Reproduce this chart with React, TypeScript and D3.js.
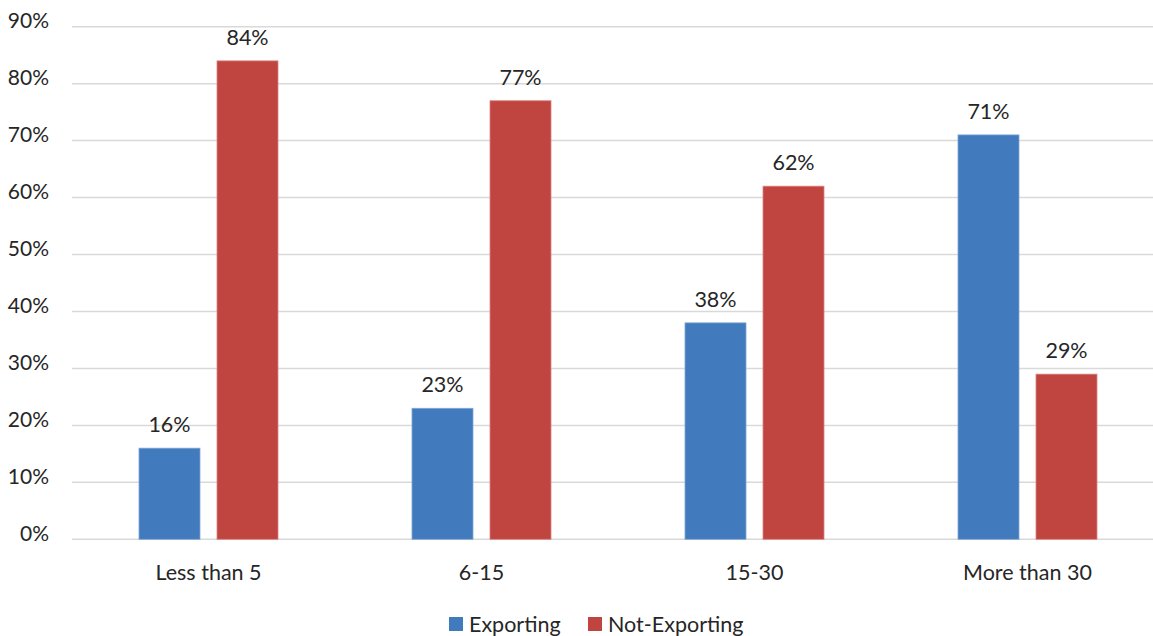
import React from "react";
import * as d3 from "d3";

// Share of firms exporting vs not exporting, by firm size (employees)
const categories = ["Less than 5", "6-15", "15-30", "More than 30"];
const seriesNames = ["Exporting", "Not-Exporting"];
const exporting = [16, 23, 38, 71];
const notExporting = [84, 77, 62, 29];
const yTicks = [0, 10, 20, 30, 40, 50, 60, 70, 80, 90];

const colors = ["#417BBD", "#C0443F"];
const strokes = ["#7FA6D6", "#D98683"];

const W = 1153;
const H = 636;
const FONT = "Lato, 'Open Sans', sans-serif";
const TEXT = "#262626";
const FS = 21.5;

export default function App() {
  const x = d3.scaleBand<string>().domain(categories).range([72, 1164]).padding(0);
  const xs = d3
    .scaleBand<string>()
    .domain(seriesNames)
    .range([0, 139])
    .paddingInner(0.218)
    .paddingOuter(0);
  const y = d3.scaleLinear().domain([0, 90]).range([539.3, 26.7]);

  const series = [exporting, notExporting];

  return (
    <svg
      width={W}
      height={H}
      style={{ position: "absolute", left: 0, top: 0, background: "#fff" }}
      fontFamily={FONT}
    >
      {/* gridlines and y tick labels */}
      {yTicks.map((t) => (
        <g key={t}>
          <line x1={72} x2={W} y1={y(t)} y2={y(t)} stroke="#D9D9D9" strokeWidth={1.5} />
          <text
            x={49}
            y={y(t) - 7}
            textAnchor="end"
            dominantBaseline="central"
            fontSize={21}
            fill={TEXT}
          >
            {t}%
          </text>
        </g>
      ))}

      {/* bars with value labels */}
      {categories.map((c, ci) => {
        const gx = (x(c) ?? 0) + x.bandwidth() / 2 - 69.5;
        return (
          <g key={c}>
            {seriesNames.map((s, si) => {
              const v = series[si][ci];
              const bx = gx + (xs(s) ?? 0);
              return (
                <g key={s}>
                  <rect
                    x={bx}
                    y={y(v)}
                    width={xs.bandwidth()}
                    height={y(0) - y(v)}
                    fill={colors[si]}
                    stroke={strokes[si]}
                    strokeWidth={0.8}
                  />
                  <text
                    x={bx + xs.bandwidth() / 2}
                    y={y(v) - 24}
                    textAnchor="middle"
                    dominantBaseline="central"
                    fontSize={FS}
                    fill={TEXT}
                  >
                    {v}%
                  </text>
                </g>
              );
            })}
            <text
              x={(x(c) ?? 0) + x.bandwidth() / 2}
              y={572}
              textAnchor="middle"
              dominantBaseline="central"
              fontSize={FS}
              fill={TEXT}
            >
              {c}
            </text>
          </g>
        );
      })}

      {/* legend */}
      {seriesNames.map((s, i) => {
        const lx = i === 0 ? 449 : 588;
        return (
          <g key={s}>
            <rect x={lx} y={617} width={14} height={14} fill={colors[i]} />
            <text
              x={lx + 20}
              y={624}
              dominantBaseline="central"
              fontSize={FS}
              fill={TEXT}
            >
              {s}
            </text>
          </g>
        );
      })}
    </svg>
  );
}
